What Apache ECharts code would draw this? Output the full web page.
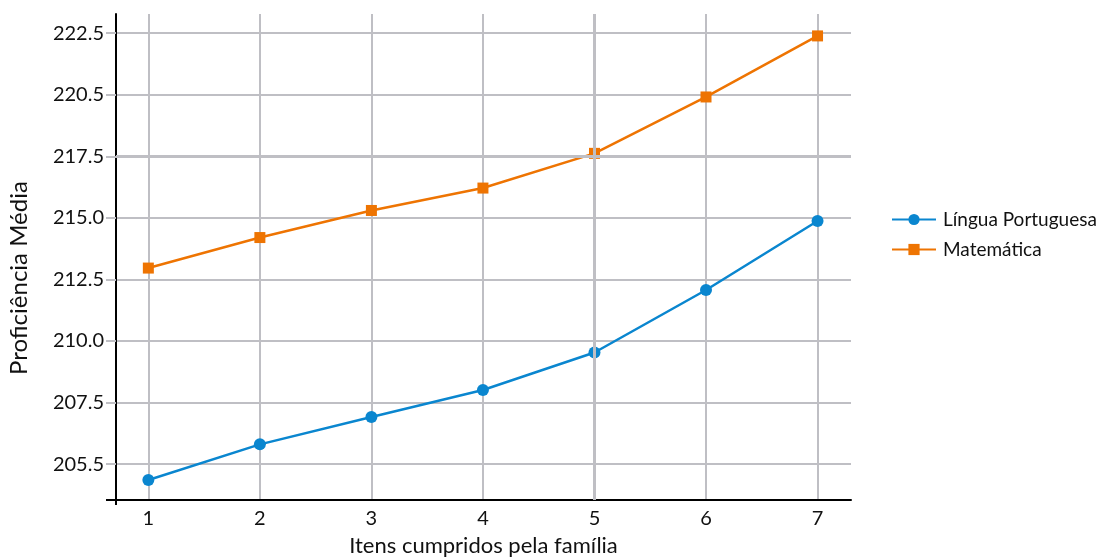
<!DOCTYPE html>
<html>
<head>
<meta charset="utf-8">
<script src="https://cdn.jsdelivr.net/npm/echarts@6/dist/echarts.min.js"></script>
<style>
  html, body { margin: 0; padding: 0; background: #ffffff; }
  #chart { width: 1102px; height: 559px; }
</style>
</head>
<body>
<div id="chart"></div>
<script>
// Itens cumpridos pela família vs. proficiência média
const itens = [1, 2, 3, 4, 5, 6, 7];
const linguaPortuguesa = [204.35, 205.80, 206.91, 208.01, 209.53, 212.07, 214.87];
const matematica = [212.96, 214.20, 215.30, 216.21, 217.62, 219.91, 222.39];

// y gridline positions and the labels printed next to them
const yTickValues = [205, 207.5, 210, 212.5, 215, 217.5, 220, 222.5];
const yTickLabels = ['205.5', '207.5', '210.0', '212.5', '215.0', '217.5', '220.5', '222.5'];

// axis extents
const xMin = 0.71, xMax = 7.3;
const yMin = 203.54, yMax = 223.28;

// emphasised gridlines
const strongY = 217.5;
const strongX = 5;

const FONT = 'Lato';
const GRID = '#bfbfc4';

const chart = echarts.init(document.getElementById('chart'), null, { renderer: 'canvas' });

chart.setOption({
  animation: false,
  backgroundColor: '#ffffff',
  textStyle: { fontFamily: FONT, color: '#111' },
  grid: { left: 116, right: 251, top: 14, bottom: 59, containLabel: false, outerBoundsMode: 'none' },
  legend: {
    orient: 'vertical',
    left: 886,
    top: 205,
    itemWidth: 44,
    itemHeight: 14,
    itemGap: 11,
    data: ['Língua Portuguesa', 'Matemática'],
    textStyle: { fontFamily: FONT, fontSize: 19, color: '#111', padding: [0, 0, 0, 2] }
  },
  xAxis: [
    {
      type: 'value',
      position: 'bottom',
      min: xMin,
      max: xMax,
      name: 'Itens cumpridos pela família',
      nameLocation: 'middle',
      nameGap: 35,
      nameTextStyle: { fontFamily: FONT, fontSize: 22, color: '#111' },
      axisLine: { show: true, onZero: false, lineStyle: { color: '#000', width: 2 } },
      axisTick: { show: false, customValues: itens },
      axisLabel: { customValues: itens, margin: 9, fontFamily: FONT, fontSize: 20, color: '#111' },
      splitLine: { show: true, lineStyle: { color: GRID, width: 2 } }
    },
    {
      type: 'value',
      position: 'bottom',
      min: xMin,
      max: xMax,
      axisLine: { show: false },
      axisLabel: { show: false },
      splitLine: { show: false },
      axisTick: { show: true, customValues: [xMin], length: 5, lineStyle: { color: '#000', width: 2 } }
    }
  ],
  yAxis: [
    {
      type: 'value',
      position: 'left',
      min: yMin,
      max: yMax,
      name: 'Proficiência Média',
      nameLocation: 'middle',
      nameGap: 85,
      nameTextStyle: { fontFamily: FONT, fontSize: 24, color: '#111', padding: [0, 42, 0, 0] },
      axisLine: { show: true, onZero: false, lineStyle: { color: '#000', width: 2 } },
      axisTick: { show: true, customValues: yTickValues, length: 10, lineStyle: { color: GRID, width: 2 } },
      axisLabel: {
        customValues: yTickValues,
        margin: 12,
        fontFamily: FONT,
        fontSize: 20,
        color: '#111',
        formatter: function (v) {
          const i = yTickValues.findIndex(t => Math.abs(t - v) < 1e-6);
          return i >= 0 ? yTickLabels[i] : '';
        }
      },
      splitLine: { show: true, lineStyle: { color: GRID, width: 2 } }
    },
    {
      type: 'value',
      position: 'left',
      min: yMin,
      max: yMax,
      axisLine: { show: false },
      axisLabel: { show: false },
      splitLine: { show: false },
      axisTick: { show: true, customValues: [yMin], length: 10, lineStyle: { color: '#000', width: 2 } }
    }
  ],
  series: [
    {
      name: 'grade',
      type: 'line',
      data: [],
      z: 1,
      silent: true,
      markLine: {
        silent: true,
        symbol: ['none', 'none'],
        label: { show: false },
        lineStyle: { color: GRID, width: 3, type: 'solid' },
        data: [{ yAxis: strongY }, { xAxis: strongX }]
      }
    },
    {
      name: 'Língua Portuguesa',
      type: 'line',
      z: 3,
      data: itens.map((x, i) => [x, linguaPortuguesa[i]]),
      symbol: 'circle',
      symbolSize: 12,
      lineStyle: { color: '#0a86cf', width: 2.5 },
      itemStyle: { color: '#0a86cf' }
    },
    {
      name: 'Matemática',
      type: 'line',
      z: 3,
      data: itens.map((x, i) => [x, matematica[i]]),
      symbol: 'rect',
      symbolSize: 11,
      lineStyle: { color: '#ee7402', width: 2.5 },
      itemStyle: { color: '#ee7402' }
    }
  ]
});
</script>
</body>
</html>
